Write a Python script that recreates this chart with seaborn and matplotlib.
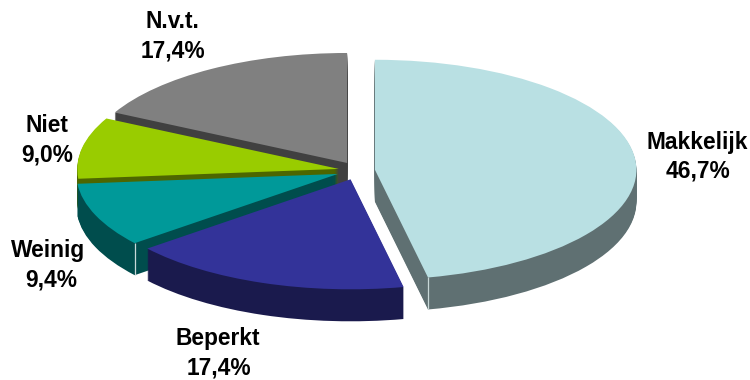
import numpy as np
import matplotlib
matplotlib.use("Agg")
import matplotlib.pyplot as plt
import seaborn as sns

categories = ["Makkelijk", "Beperkt", "Weinig", "Niet", "N.v.t."]
values = [46.7, 17.4, 9.4, 9.0, 17.4]
top_colors = ["#B9E0E3", "#333399", "#009999", "#99CC00", "#808080"]
wall_colors = ["#5F7072", "#1A1A4D", "#004D4D", "#4D6600", "#404040"]

explode = [0.065, 0.085, 0.083, 0.075, 0.080]
stack_order = [5, 4, 3, 2, 1]
label_px = [(697, 142, 171), (218, 339, 368), (48, 251, 280), (47, 126, 155), (172, 21, 51)]
pct_dx = [1, 1, 3, 0, 1]

W, H = 750, 380
RX, RY = 261.5, 110.0
CX, CY = 358.0, 170.5
DEPTH = 32

sns.set_theme(style="white")
plt.rcParams["font.family"] = ["Liberation Sans", "DejaVu Sans"]

fig = plt.figure(figsize=(W / 100, H / 100), dpi=100, facecolor="white")
ax = fig.add_axes([0, 0, 1, 1])

# extruded walls: a stack of pies, deepest first
for step in range(DEPTH, 0, -1):
    wedges, _ = ax.pie(values, colors=wall_colors, explode=explode, startangle=90,
                       counterclock=False, center=(0, -step / RY), radius=1,
                       wedgeprops=dict(linewidth=0))
    for w, z in zip(wedges, stack_order):
        w.set_zorder(z + (DEPTH - step) / 100)

# top faces
wedges, _ = ax.pie(values, colors=top_colors, explode=explode, startangle=90,
                   counterclock=False, center=(0, 0), radius=1,
                   wedgeprops=dict(linewidth=0))
for w, z in zip(wedges, stack_order):
    w.set_zorder(z + 0.9)

# thin highlight on the wall corners of two slices
fracs = np.array(values) / np.sum(values)
edges = 90 - 360 * np.concatenate([[0], np.cumsum(fracs)])
mids = (edges[:-1] + edges[1:]) / 2
for i, ang, col in [(0, edges[1], "#C8D8D8"), (2, edges[2], "#C8D8D8")]:
    m = np.radians(mids[i])
    a = np.radians(ang)
    x = explode[i] * np.cos(m) + np.cos(a)
    y = explode[i] * np.sin(m) + np.sin(a)
    ax.plot([x, x], [y, y - DEPTH / RY], color=col, lw=0.9, zorder=stack_order[i] + 0.95,
            solid_capstyle="butt")

ax.set_aspect("auto")
ax.set_xlim(-CX / RX, (W - CX) / RX)
ax.set_ylim(-(H - CY) / RY, CY / RY)
ax.axis("off")

for name, val, (x, y1, y2), dx in zip(categories, values, label_px, pct_dx):
    for txt, yy, xx in ((name, y1, x), (f"{val:.1f}%".replace(".", ","), y2, x + dx)):
        fig.text(xx / W, 1 - yy / H, txt, ha="center", va="center",
                 fontsize=16.4, fontweight="bold", color="black")

fig.savefig("out.png", dpi=100, facecolor="white")
